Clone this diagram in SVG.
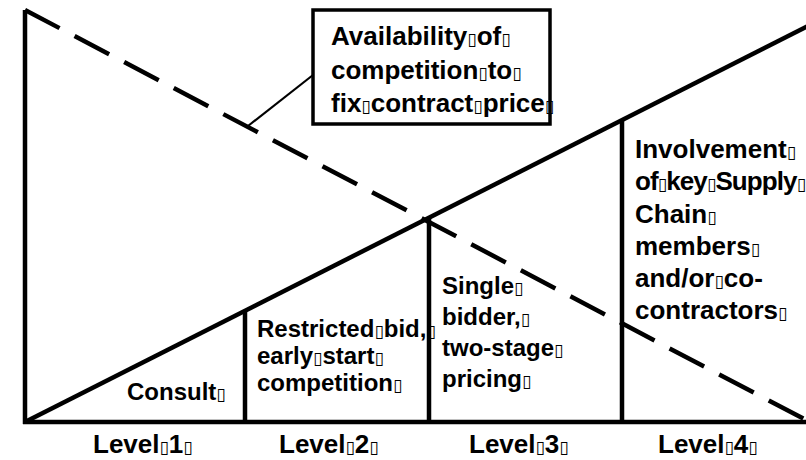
<svg xmlns="http://www.w3.org/2000/svg" width="806" height="460" viewBox="0 0 806 460">
  <style>
    .ln { stroke: #000; stroke-width: 4.5; fill: none; stroke-linecap: butt; }
    .dash { stroke: #000; stroke-width: 4.5; fill: none; stroke-dasharray: 39 17; }
    .lead { stroke: #000; stroke-width: 2.2; fill: none; }
    .box { fill: #fff; stroke: #000; stroke-width: 3.5; }
    text { font-family: "Liberation Sans", Arial, sans-serif; font-weight: bold; fill: #000; }
    .t26 { font-size: 26px; }
    .t24 { font-size: 24px; }
    .q { font-family: "DejaVu Sans", sans-serif; font-weight: normal; font-size: 17px; }
  </style>

  <rect width="806" height="460" fill="#fff"/>

  <!-- axes and trend lines -->
  <g id="frame">
    <path class="ln" d="M25,10 V424"/>
    <path class="ln" d="M23,422 H806"/>
    <path class="ln" d="M25,422 L812,24"/>
    <path class="dash" d="M25,10 L806,420"/>
    <path class="ln" d="M245,311 V424"/>
    <path class="ln" d="M429,218 V424"/>
    <path class="ln" d="M622,120 V424"/>
  </g>

  <!-- leader from the dashed trend to its label -->
  <g id="connectors">
    <path class="lead" d="M248,126 L313,75"/>
  </g>

  <g id="callout">
    <rect class="box" x="313" y="10" width="237" height="114"/>
    <text class="t26" x="331" y="45">Availability<tspan class="q">▯</tspan>of<tspan class="q">▯</tspan></text>
    <text class="t26" x="331" y="79">competition<tspan class="q">▯</tspan>to<tspan class="q">▯</tspan></text>
    <text class="t26" x="331" y="112">fix<tspan class="q">▯</tspan>contract<tspan class="q">▯</tspan>price<tspan class="q">▯</tspan></text>
  </g>

  <g id="level1">
    <text class="t24" x="127" y="400">Consult<tspan class="q">▯</tspan></text>
    <text class="t26" x="93" y="453">Level<tspan class="q">▯</tspan>1<tspan class="q">▯</tspan></text>
  </g>

  <g id="level2">
    <text class="t24" x="257" y="337">Restricted<tspan class="q">▯</tspan>bid,<tspan class="q">▯</tspan></text>
    <text class="t24" x="257" y="364">early<tspan class="q">▯</tspan>start<tspan class="q">▯</tspan></text>
    <text class="t24" x="257" y="391">competition<tspan class="q">▯</tspan></text>
    <text class="t26" x="279" y="453">Level<tspan class="q">▯</tspan>2<tspan class="q">▯</tspan></text>
  </g>

  <g id="level3">
    <text class="t24" x="442" y="294">Single<tspan class="q">▯</tspan></text>
    <text class="t24" x="442" y="325">bidder,<tspan class="q">▯</tspan></text>
    <text class="t24" x="442" y="356">two-stage<tspan class="q">▯</tspan></text>
    <text class="t24" x="442" y="387">pricing<tspan class="q">▯</tspan></text>
    <text class="t26" x="469" y="453">Level<tspan class="q">▯</tspan>3<tspan class="q">▯</tspan></text>
  </g>

  <g id="level4">
    <text class="t26" x="635" y="158">Involvement<tspan class="q">▯</tspan></text>
    <text class="t26" x="635" y="190" letter-spacing="-0.9">of<tspan class="q">▯</tspan>key<tspan class="q">▯</tspan>Supply<tspan class="q">▯</tspan></text>
    <text class="t26" x="635" y="223">Chain<tspan class="q">▯</tspan></text>
    <text class="t26" x="635" y="255">members<tspan class="q">▯</tspan></text>
    <text class="t26" x="635" y="287">and/or<tspan class="q">▯</tspan>co-</text>
    <text class="t26" x="635" y="319">contractors<tspan class="q">▯</tspan></text>
    <text class="t26" x="658" y="453">Level<tspan class="q">▯</tspan>4<tspan class="q">▯</tspan></text>
  </g>
</svg>
